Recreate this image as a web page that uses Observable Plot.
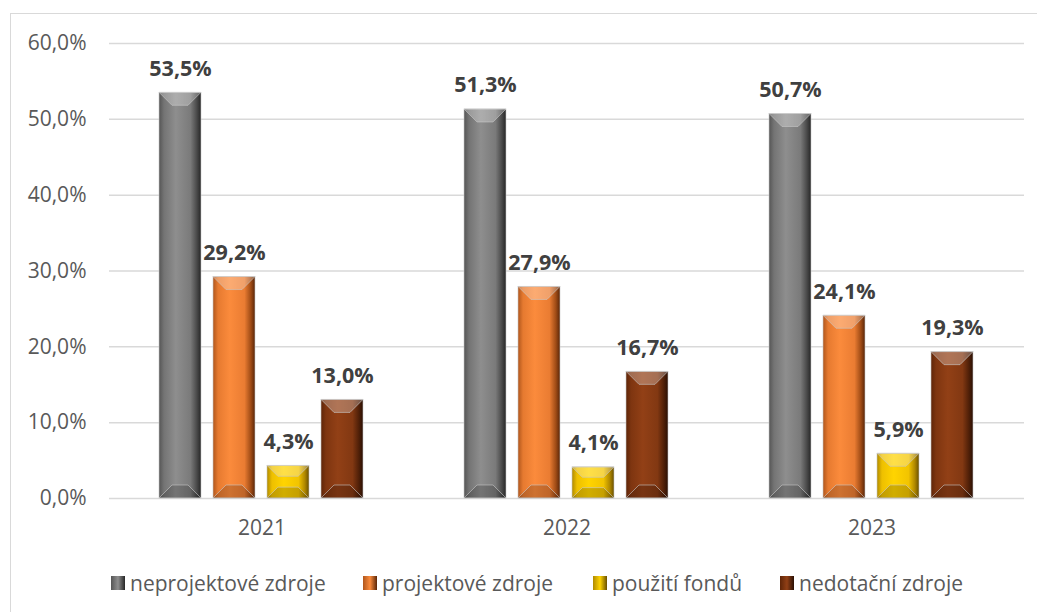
<!DOCTYPE html>
<html><head><meta charset="utf-8">
<script src="https://cdn.jsdelivr.net/npm/d3@7"></script>
<script src="https://cdn.jsdelivr.net/npm/@observablehq/plot@0.6"></script>
<style>
html,body{margin:0;padding:0;background:#fff;}
#wrap{position:relative;width:1037px;height:612px;overflow:hidden;font-family:"Open Sans",sans-serif;}
#frame{position:absolute;left:10px;top:13px;width:1040px;height:620px;border:1.5px solid #d9d9d9;box-sizing:border-box;}
#chart{position:absolute;left:0;top:0;}
.leg{position:absolute;top:569px;display:flex;align-items:center;font-size:21px;color:#595959;white-space:nowrap;}
.sw{width:14px;height:14px;margin-right:5px;box-sizing:border-box;}
</style></head>
<body>
<svg width="0" height="0" style="position:absolute">
<defs>
<linearGradient id="g0" x1="0" x2="1" y1="0" y2="0">
<stop offset="0" stop-color="#555"/><stop offset="0.12" stop-color="#747474"/><stop offset="0.4" stop-color="#8e8e8e"/><stop offset="0.75" stop-color="#7a7a7a"/><stop offset="0.9" stop-color="#4a4a4a"/><stop offset="1" stop-color="#262626"/>
</linearGradient>
<linearGradient id="g1" x1="0" x2="1" y1="0" y2="0">
<stop offset="0" stop-color="#b0561c"/><stop offset="0.12" stop-color="#e67a30"/><stop offset="0.4" stop-color="#fb8b3c"/><stop offset="0.75" stop-color="#ea7c32"/><stop offset="0.9" stop-color="#a04c16"/><stop offset="1" stop-color="#5a2608"/>
</linearGradient>
<linearGradient id="g2" x1="0" x2="1" y1="0" y2="0">
<stop offset="0" stop-color="#b08a00"/><stop offset="0.12" stop-color="#eec000"/><stop offset="0.4" stop-color="#ffd400"/><stop offset="0.75" stop-color="#f2c400"/><stop offset="0.9" stop-color="#b08800"/><stop offset="1" stop-color="#6a5000"/>
</linearGradient>
<linearGradient id="g3" x1="0" x2="1" y1="0" y2="0">
<stop offset="0" stop-color="#5e2508"/><stop offset="0.12" stop-color="#7e3510"/><stop offset="0.4" stop-color="#924016"/><stop offset="0.75" stop-color="#823812"/><stop offset="0.9" stop-color="#502008"/><stop offset="1" stop-color="#2a1004"/>
</linearGradient>
</defs>
</svg>
<div id="wrap">
<div id="frame"></div>
<div id="chart"></div>
</div>
<script>
const years = ["2021", "2022", "2023"];
const series = ["neprojektové zdroje", "projektové zdroje", "použití fondů", "nedotační zdroje"];
const neprojektove = [53.5, 51.3, 50.7];
const projektove = [29.2, 27.9, 24.1];
const fondy = [4.3, 4.1, 5.9];
const nedotacni = [13.0, 16.7, 19.3];
const yTicks = [0, 10, 20, 30, 40, 50, 60];
const fills = ["url(#g0)", "url(#g1)", "url(#g2)", "url(#g3)"];
const swatches = [
  "linear-gradient(90deg,#555,#8e8e8e,#262626)",
  "linear-gradient(90deg,#b0561c,#fb8b3c,#5a2608)",
  "linear-gradient(90deg,#b08a00,#ffd400,#6a5000)",
  "linear-gradient(90deg,#5e2508,#924016,#2a1004)"
];

const valuesBySeries = [neprojektove, projektove, fondy, nedotacni];
const data = [];
years.forEach((yr, i) => series.forEach((s, j) => data.push({year: yr, series: s, value: valuesBySeries[j][i]})));

const fmt = v => v.toFixed(1).replace(".", ",") + "%";

const plot = Plot.plot({
  width: 1037,
  height: 560,
  marginTop: 43,
  marginBottom: 62,
  marginLeft: 109,
  marginRight: 13,
  style: {fontFamily: "Open Sans, sans-serif", background: "transparent", overflow: "visible"},
  fx: {domain: years, padding: 0, label: null},
  x: {domain: series, paddingInner: 0.218, paddingOuter: 0.882, axis: null},
  y: {domain: [0, 60], label: null},
  color: {domain: series, range: fills},
  marks: [
    Plot.gridY(yTicks, {stroke: "#d9d9d9", strokeOpacity: 1, strokeWidth: 1.5}),
    Plot.axisY(yTicks, {tickSize: 0, tickPadding: 23, tickFormat: fmt, fontSize: 21, fill: "#595959", label: null}),
    Plot.axisFx({anchor: "bottom", tickSize: 0, tickPadding: 22, fontSize: 21, fill: "#595959", label: null}),
    Plot.barY(data, {fx: "year", x: "series", y: "value", fill: "series", stroke: "#c8c8c8", strokeWidth: 0.6}),
    Plot.text(data, {fx: "year", x: "series", y: "value", text: d => fmt(d.value), dy: -24, fontSize: 21.5, fontWeight: "bold", fill: "#404040"})
  ]
});
document.getElementById("chart").appendChild(plot);

// bevel overlay derived from rendered bars
const ns = "http://www.w3.org/2000/svg";
plot.querySelectorAll('g[aria-label="bar"] rect').forEach(r => {
  const x = +r.getAttribute("x"), y = +r.getAttribute("y"), w = +r.getAttribute("width"), h = +r.getAttribute("height");
  const b = Math.min(13, h / 3, w / 3);
  const addPoly = (pts, fill, op) => {
    const p = document.createElementNS(ns, "polygon");
    p.setAttribute("points", pts.map(q => q.join(",")).join(" "));
    p.setAttribute("fill", fill);
    p.setAttribute("fill-opacity", op);
    r.parentNode.appendChild(p);
  };
  addPoly([[x, y], [x + w, y], [x + w - b, y + b], [x + b, y + b]], "#fff", 0.28);
  addPoly([[x, y + h], [x + w, y + h], [x + w - b, y + h - b], [x + b, y + h - b]], "#000", 0.18);
});

// legend
const legX = [111, 363, 593, 780];
const wrap = document.getElementById("wrap");
series.forEach((s, i) => {
  const d = document.createElement("div");
  d.className = "leg";
  d.style.left = legX[i] + "px";
  const sw = document.createElement("div");
  sw.className = "sw";
  sw.style.background = swatches[i];
  const t = document.createElement("span");
  t.textContent = s;
  d.appendChild(sw); d.appendChild(t);
  wrap.appendChild(d);
});
</script>
</body></html>
